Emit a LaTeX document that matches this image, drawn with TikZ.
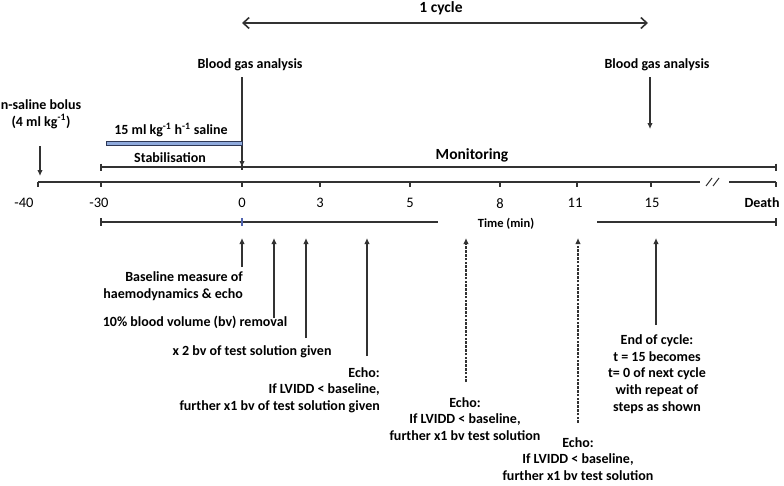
\documentclass[tikz,border=0pt]{standalone}
\usepackage{fontspec}
\setmainfont{Carlito}
\usetikzlibrary{arrows.meta}
\definecolor{ln}{RGB}{50,50,50}
\definecolor{barfill}{RGB}{143,170,220}
\definecolor{barline}{RGB}{45,55,85}
\definecolor{tickblue}{RGB}{80,100,175}
\begin{document}
\begin{tikzpicture}[x=1pt,y=-1pt,
  txt/.style={font=\bfseries\fontsize{14}{16.7}\selectfont, inner sep=0pt, align=center},
  big/.style={font=\bfseries\fontsize{15.5}{18}\selectfont, inner sep=0pt},
  num/.style={font=\fontsize{14.5}{17}\selectfont, inner sep=0pt},
  small/.style={font=\bfseries\fontsize{12.5}{15}\selectfont, inner sep=0pt},
  axisline/.style={draw=ln, line width=1.1pt},
  arr/.style={draw=ln, line width=1.1pt, -{Latex[length=6pt,width=5.5pt]}},
  dsh/.style={dash pattern=on 2.6pt off 1.2pt},
  cycarrow/.style={draw=ln, line width=1.6pt, {Straight Barb[length=6pt,width=11pt]}-{Straight Barb[length=6pt,width=11pt]}},
  barstyle/.style={fill=barfill, draw=barline, line width=0.9pt}]
\useasboundingbox (0,0) rectangle (784,485);

% 1 cycle
\node[big] (cyc) at (441,8) {1 cycle};
\coordinate (cycL) at (242,23);
\coordinate (cycR) at (648,23);
\draw[cycarrow] (cycL) -- (cycR);

% blood gas analysis
\node[txt] (bga1) at (250,65) {Blood gas analysis};
\node[txt] (bga2) at (657,65) {Blood gas analysis};
\coordinate (bga1top) at (242,77);
\coordinate (bga1tip) at (242,167);
\coordinate (bga2top) at (650,77);
\coordinate (bga2tip) at (650,129);
\draw[arr] (bga1top) -- (bga1tip);
\draw[arr] (bga2top) -- (bga2tip);

% bolus
\node[txt] (bolus) at (41,114) {n-saline bolus\\(4 ml kg\textsuperscript{-1})};
\coordinate (bolustop) at (40,146);
\coordinate (bolustip) at (40,176);
\draw[arr] (bolustop) -- (bolustip);

% saline bar
\node[txt] (sal) at (171,130) {15 ml kg\textsuperscript{-1} h\textsuperscript{-1} saline};
\draw[barstyle] (106,141) rectangle (242,145.5);
\node[txt] (stab) at (170,158) {Stabilisation};
\node[big] (mon) at (472,155) {Monitoring};

% upper line
\coordinate (uL) at (101,167);
\coordinate (uR) at (776,167);
\draw[axisline] (uL) -- (uR);
\draw[axisline] (101,163.5) -- (101,170.5);
\draw[axisline] (242,164.5) -- (242,170);
\draw[axisline] (776,163.5) -- (776,170.5);

% time axis
\coordinate (aL) at (38,182);
\coordinate (aB1) at (700,182);
\coordinate (aB2) at (729,182);
\coordinate (aR) at (776,182);
\draw[axisline] (aL) -- (aB1);
\draw[axisline] (aB2) -- (aR);
\foreach \x in {38,101,242,320,410,500,577,651,776}
  \draw[axisline] (\x,182) -- (\x,186.5);
\draw[draw=ln, line width=1pt] (706,186) -- (712,178);
\draw[draw=ln, line width=1pt] (713,186) -- (719,178);

% tick labels
\node[num] (tm40) at (24,203) {-40};
\node[num] (tm30) at (99,203) {-30};
\node[num] (t0) at (242,203) {0};
\node[num] (t3) at (320,203) {3};
\node[num] (t5) at (410,203) {5};
\node[num] (t8) at (500,204) {8};
\node[num] (t11) at (575,203) {11};
\node[num] (t15) at (652,203) {15};
\node[txt] (death) at (762,203) {Death};
\node[small] (time) at (506,224) {Time (min)};

% lower line
\coordinate (lL) at (101,222);
\coordinate (lM1) at (438,222);
\coordinate (lM2) at (597,222);
\coordinate (lR) at (776,222);
\draw[axisline] (lL) -- (lM1);
\draw[axisline] (lM2) -- (lR);
\draw[axisline] (101,218) -- (101,226);
\draw[axisline] (776,218) -- (776,226);
\draw[draw=tickblue, line width=1.1pt] (242,218) -- (242,226);

% up arrows
\coordinate (baseB) at (242,267);  \coordinate (baseT) at (242,238);
\coordinate (remB) at (274,318);   \coordinate (remT) at (274,238);
\coordinate (x2B) at (306,338);    \coordinate (x2T) at (306,238);
\coordinate (e1B) at (367,356);    \coordinate (e1T) at (367,238);
\coordinate (e2B) at (466,382);    \coordinate (e2T) at (466,238);
\coordinate (e3B) at (578,423);    \coordinate (e3T) at (578,238);
\coordinate (ecB) at (656,325);    \coordinate (ecT) at (656,238);
\draw[arr] (baseB) -- (baseT);
\draw[arr] (remB) -- (remT);
\draw[arr] (x2B) -- (x2T);
\draw[arr] (e1B) -- (e1T);
\draw[arr,dsh] (e2B) -- (e2T);
\draw[arr,dsh] (e3B) -- (e3T);
\draw[arr] (ecB) -- (ecT);

% lower labels
\node[txt, anchor=east, align=right] (baseL) at (243,286) {Baseline measure of\\haemodynamics \& echo};
\node[txt] (remL) at (195,322) {10\% blood volume (bv) removal};
\node[txt] (x2L) at (252,352) {x 2 bv of test solution given};
\node[txt, anchor=east, align=right] (e1L) at (380,390) {Echo:\\If LVIDD < baseline,\\further x1 bv of test solution given};
\node[txt] (e2L) at (465,419) {Echo:\\If LVIDD < baseline,\\further x1 bv test solution};
\node[txt] (e3L) at (578,459) {Echo:\\If LVIDD < baseline,\\further x1 bv test solution};
\node[txt] (ecL) at (657,374) {End of cycle:\\t = 15 becomes\\t= 0 of next cycle\\with repeat of\\steps as shown};
\end{tikzpicture}
\end{document}
